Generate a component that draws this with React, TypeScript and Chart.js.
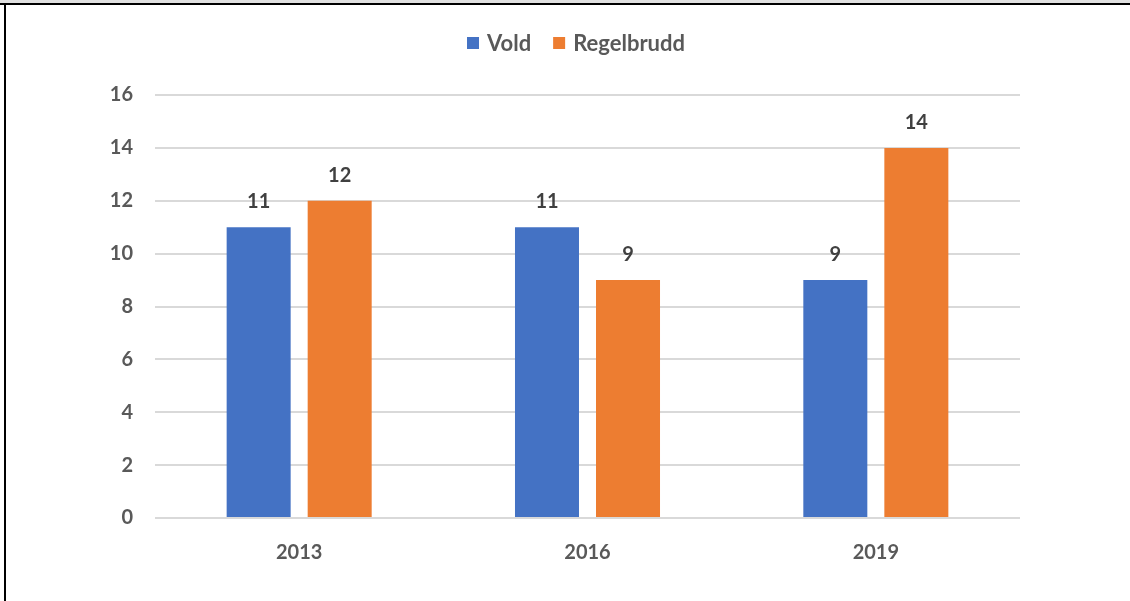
import React, { useEffect, useRef } from "react";
import { Chart, registerables } from "chart.js";

Chart.register(...registerables);

const categories = ["2013", "2016", "2019"];
const seriesNames = ["Vold", "Regelbrudd"];
const voldValues = [11, 11, 9];
const regelbruddValues = [12, 9, 14];
const seriesColors = ["#4472C4", "#ED7D31"];
const yMin = 0;
const yMax = 16;
const yStep = 2;

const FONT = "Lato, 'Open Sans', sans-serif";

const valueLabelsPlugin = {
  id: "valueLabels",
  afterDatasetsDraw(chart: any) {
    const ctx = chart.ctx;
    ctx.save();
    ctx.font = `bold 20px ${FONT}`;
    ctx.fillStyle = "#404040";
    ctx.textAlign = "center";
    ctx.textBaseline = "alphabetic";
    chart.data.datasets.forEach((ds: any, i: number) => {
      const meta = chart.getDatasetMeta(i);
      meta.data.forEach((bar: any, j: number) => {
        ctx.fillText(String(ds.data[j]), bar.x, bar.y - 19);
      });
    });
    ctx.restore();
  },
};

const customLegendPlugin = {
  id: "customLegend",
  afterDraw(chart: any) {
    const ctx = chart.ctx;
    ctx.save();
    ctx.font = `bold 22px ${FONT}`;
    const box = 12;
    const gapBoxText = 8;
    const gapItems = 22;
    const items = chart.data.datasets.map((ds: any) => ({
      label: ds.label,
      color: ds.backgroundColor,
      w: ctx.measureText(ds.label).width,
    }));
    let total = 0;
    items.forEach((it: any, i: number) => {
      total += box + gapBoxText + it.w + (i < items.length - 1 ? gapItems : 0);
    });
    let x = 576 - total / 2;
    const cy = 43;
    items.forEach((it: any) => {
      ctx.fillStyle = it.color;
      ctx.fillRect(x, cy - box / 2, box, box);
      x += box + gapBoxText;
      ctx.fillStyle = "#595959";
      ctx.textAlign = "left";
      ctx.textBaseline = "middle";
      ctx.fillText(it.label, x, cy + 1);
      x += it.w + gapItems;
    });
    ctx.restore();
  },
};

function BarChart() {
  const ref = useRef<HTMLCanvasElement | null>(null);
  useEffect(() => {
    if (!ref.current) return;
    const chart = new Chart(ref.current, {
      type: "bar",
      data: {
        labels: categories,
        datasets: [
          {
            label: seriesNames[0],
            data: voldValues,
            backgroundColor: seriesColors[0],
            categoryPercentage: 0.562,
            barPercentage: 0.79,
          },
          {
            label: seriesNames[1],
            data: regelbruddValues,
            backgroundColor: seriesColors[1],
            categoryPercentage: 0.562,
            barPercentage: 0.79,
          },
        ],
      },
      options: {
        animation: false,
        responsive: false,
        devicePixelRatio: 1,
        layout: { padding: { top: 95, right: 110, bottom: 0, left: 0 } },
        plugins: {
          legend: { display: false },
          tooltip: { enabled: false },
        },
        scales: {
          x: {
            grid: { display: false },
            border: { display: false },
            ticks: {
              color: "#595959",
              font: { family: FONT, size: 20, weight: "bold" },
              padding: 15,
            },
            afterFit: (s: any) => {
              s.height = 83;
            },
          },
          y: {
            min: yMin,
            max: yMax,
            grid: { color: "#d9d9d9", lineWidth: 2, drawTicks: false },
            border: { display: false },
            ticks: {
              stepSize: yStep,
              color: "#595959",
              font: { family: FONT, size: 20, weight: "bold" },
              padding: 22,
            },
            afterFit: (s: any) => {
              s.width = 155;
            },
          },
        },
      },
      plugins: [valueLabelsPlugin, customLegendPlugin],
    });
    return () => chart.destroy();
  }, []);
  return <canvas ref={ref} width={1130} height={601} style={{ display: "block" }} />;
}

export default function App() {
  return (
    <div style={{ position: "fixed", left: 0, top: 0, width: 1130, height: 601, background: "#fff", overflow: "hidden" }}>
      <div style={{ position: "absolute", left: 0, top: 0, width: 1130, height: 601 }}>
        <BarChart />
      </div>
      <div style={{ position: "absolute", left: 0, top: 0, width: 1130, height: 3, background: "#e0e0e0" }} />
      <div style={{ position: "absolute", left: 0, top: 3, width: 1130, height: 2, background: "#000" }} />
      <div style={{ position: "absolute", left: 4, top: 3, width: 2, height: 598, background: "#000" }} />
    </div>
  );
}
